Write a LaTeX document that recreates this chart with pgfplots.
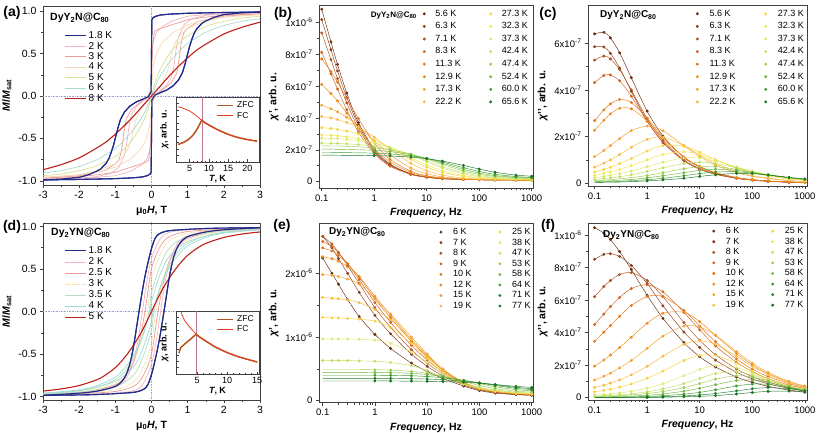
\documentclass[border=0pt]{standalone}
\usepackage{fontspec}
\setmainfont{Liberation Sans}
\setsansfont{Liberation Sans}
\usepackage{pgfplots}
\usepackage{pgfplotstable}
\pgfplotsset{compat=1.18}

\definecolor{cA}{HTML}{6B2A0E}
\definecolor{cB}{HTML}{8E3A14}
\definecolor{cC}{HTML}{B0501E}
\definecolor{cD}{HTML}{D0621F}
\definecolor{cE}{HTML}{E97614}
\definecolor{cF}{HTML}{F08A1C}
\definecolor{cG}{HTML}{F5A22E}
\definecolor{cH}{HTML}{F7BC3E}
\definecolor{cI}{HTML}{F7D43A}
\definecolor{cJ}{HTML}{F2E94E}
\definecolor{cK}{HTML}{DCEB70}
\definecolor{cL}{HTML}{C2E05F}
\definecolor{cM}{HTML}{9DCF4E}
\definecolor{cN}{HTML}{6FB83C}
\definecolor{cO}{HTML}{3C9C2F}
\definecolor{cP}{HTML}{1A7324}
\definecolor{cQ}{HTML}{23802A}
\definecolor{hnavy}{HTML}{1F2A8A}
\definecolor{hred}{HTML}{C0201A}
\definecolor{hpink}{HTML}{F2B6BE}
\definecolor{hsalmon}{HTML}{EE9C94}
\definecolor{hpeach}{HTML}{F6D9B4}
\definecolor{hygreen}{HTML}{D9E28E}
\definecolor{hteal}{HTML}{A9DDD3}
\definecolor{hyellow}{HTML}{F0D890}
\definecolor{hlgreen}{HTML}{B5DFC0}
\definecolor{hcyan}{HTML}{9FDCD6}
\definecolor{hzfc}{HTML}{B5541E}
\definecolor{hfc}{HTML}{E2401C}
\definecolor{hvline}{HTML}{C07890}
\definecolor{hzero}{HTML}{9AA8C8}

% ---------- AC data (units of 1e-7) ----------
\pgfplotstableread{
f s1 s2 s3 s4 s5 s6 s7 s8 s9 s10 s11 s12 s13 s14 s15 s16
0.1 10.84 10.18 9.35 8.13 7.71 6.11 4.80 4.09 3.39 2.94 2.73 2.42 2.25 2.04 1.83 1.66
0.15 8.78 8.29 7.67 6.78 6.92 5.54 4.58 4.00 3.34 2.91 2.71 2.41 2.24 2.04 1.83 1.66
0.2 7.37 6.96 6.47 5.82 6.25 5.07 4.39 3.90 3.28 2.88 2.70 2.40 2.24 2.03 1.82 1.66
0.3 5.57 5.28 4.95 4.52 5.25 4.31 4.04 3.72 3.18 2.82 2.66 2.37 2.22 2.02 1.82 1.65
0.5 3.71 3.56 3.35 3.12 3.96 3.32 3.47 3.41 3.00 2.70 2.58 2.33 2.19 2.00 1.81 1.65
1 2.04 1.95 1.86 1.76 2.45 2.11 2.57 2.80 2.63 2.46 2.42 2.22 2.12 1.97 1.79 1.63
2 1.10 1.05 1.01 0.97 1.40 1.23 1.69 2.05 2.13 2.11 2.17 2.04 2.00 1.89 1.74 1.61
5 0.49 0.48 0.47 0.45 0.65 0.58 0.85 1.15 1.40 1.50 1.67 1.67 1.73 1.69 1.62 1.54
10 0.30 0.28 0.28 0.27 0.37 0.34 0.50 0.69 0.92 1.04 1.23 1.30 1.42 1.46 1.46 1.44
20 0.19 0.19 0.19 0.18 0.24 0.22 0.30 0.41 0.58 0.68 0.84 0.93 1.08 1.16 1.23 1.29
50 0.14 0.14 0.14 0.13 0.15 0.15 0.18 0.22 0.32 0.38 0.48 0.56 0.67 0.77 0.88 1.02
100 0.12 0.12 0.12 0.12 0.12 0.12 0.14 0.16 0.22 0.26 0.32 0.38 0.46 0.54 0.64 0.79
200 0.11 0.11 0.11 0.11 0.11 0.11 0.12 0.13 0.16 0.20 0.23 0.27 0.33 0.38 0.46 0.59
500 0.10 0.10 0.10 0.10 0.10 0.10 0.10 0.11 0.13 0.15 0.17 0.20 0.24 0.27 0.32 0.41
1000 0.10 0.10 0.10 0.10 0.10 0.10 0.10 0.10 0.11 0.14 0.15 0.18 0.21 0.23 0.26 0.34
}\tabB

\pgfplotstableread{
f s1 s2 s3 s4 s5 s6 s7 s8 s9 s10 s11 s12 s13 s14 s15 s16
0.1 6.40 5.85 5.28 4.31 2.68 2.27 1.14 0.69 0.48 0.34 0.24 0.16 0.11 0.07 0.05 0.03
0.15 6.47 5.84 5.45 4.62 3.14 2.70 1.40 0.86 0.59 0.42 0.29 0.20 0.13 0.09 0.06 0.04
0.2 6.23 5.57 5.33 4.64 3.40 2.97 1.61 1.00 0.68 0.48 0.34 0.23 0.15 0.10 0.07 0.04
0.3 5.59 4.94 4.87 4.39 3.59 3.21 1.91 1.23 0.84 0.59 0.41 0.28 0.19 0.13 0.08 0.05
0.5 4.52 3.94 4.00 3.73 3.46 3.19 2.25 1.54 1.06 0.75 0.52 0.36 0.24 0.16 0.11 0.07
1 3.09 2.67 2.77 2.66 2.79 2.67 2.45 1.88 1.38 1.00 0.71 0.50 0.33 0.23 0.15 0.10
2 2.02 1.74 1.84 1.77 1.97 1.92 2.25 1.97 1.61 1.23 0.90 0.66 0.45 0.32 0.21 0.14
5 1.10 0.96 1.00 0.98 1.13 1.11 1.61 1.61 1.58 1.35 1.08 0.84 0.62 0.45 0.32 0.21
10 0.70 0.60 0.63 0.62 0.72 0.71 1.14 1.21 1.33 1.23 1.08 0.90 0.70 0.55 0.41 0.29
20 0.44 0.38 0.40 0.39 0.45 0.45 0.77 0.84 1.01 1.00 0.95 0.84 0.71 0.60 0.48 0.36
50 0.24 0.21 0.21 0.21 0.24 0.24 0.45 0.50 0.65 0.68 0.70 0.66 0.60 0.55 0.49 0.42
100 0.15 0.13 0.14 0.13 0.15 0.15 0.30 0.33 0.45 0.48 0.52 0.50 0.47 0.45 0.43 0.41
200 0.09 0.08 0.09 0.08 0.10 0.09 0.20 0.22 0.31 0.34 0.38 0.36 0.35 0.35 0.35 0.35
500 0.05 0.04 0.04 0.05 0.05 0.05 0.11 0.12 0.18 0.21 0.24 0.23 0.23 0.23 0.24 0.25
1000 0.03 0.03 0.03 0.03 0.03 0.03 0.07 0.08 0.12 0.14 0.17 0.16 0.16 0.16 0.17 0.18
}\tabC

\pgfplotstableread{
f s1 s2 s3 s4 s5 s6 s7 s8 s9 s10 s11 s12 s13 s14 s15 s16
0.1 22.4 25.8 25.8 25.0 24.0 22.6 19.8 16.2 13.1 9.7 6.3 4.9 4.45 4.0 3.5 3.1
0.15 20.0 24.0 24.6 24.2 23.5 22.3 19.7 16.1 13.0 9.7 6.3 4.9 4.45 4.0 3.5 3.1
0.2 18.3 22.3 23.3 23.2 22.8 21.9 19.5 16.0 13.0 9.7 6.3 4.9 4.45 4.0 3.5 3.1
0.3 15.9 20.0 21.2 21.5 21.5 21.0 19.1 15.8 12.9 9.7 6.3 4.9 4.45 4.0 3.5 3.1
0.5 13.2 17.0 18.4 19.0 19.4 19.5 18.3 15.4 12.8 9.65 6.25 4.9 4.45 4.0 3.5 3.1
1 10.4 13.4 14.6 15.4 16.0 16.4 16.0 14.3 12.5 9.5 6.2 4.85 4.42 4.0 3.5 3.1
2 8.2 10.5 11.5 12.3 13.0 13.4 13.6 12.7 11.5 9.0 6.0 4.8 4.4 3.98 3.5 3.1
5 5.9 7.3 8.0 8.7 9.3 9.6 10.0 9.6 9.0 7.6 5.5 4.6 4.3 3.92 3.45 3.08
10 4.6 5.4 5.9 6.4 6.9 7.1 7.3 7.0 6.6 6.0 4.7 4.3 4.1 3.8 3.4 3.05
20 3.5 3.9 4.2 4.5 4.8 4.8 5.0 4.7 4.4 4.2 3.7 3.8 3.8 3.6 3.3 3.0
50 2.3 2.5 2.6 2.8 2.9 2.8 2.8 2.7 2.6 2.6 2.6 3.0 3.2 3.2 3.05 2.9
100 1.6 1.7 1.8 1.9 2.0 1.9 1.9 1.9 1.9 2.0 2.1 2.4 2.7 2.8 2.8 2.75
200 1.2 1.3 1.35 1.4 1.45 1.45 1.45 1.45 1.5 1.6 1.7 1.9 2.2 2.4 2.5 2.55
500 0.95 1.0 1.05 1.1 1.1 1.15 1.15 1.15 1.2 1.25 1.35 1.5 1.75 1.95 2.1 2.25
1000 0.85 0.9 0.95 1.0 1.0 1.0 1.0 1.05 1.1 1.1 1.2 1.35 1.55 1.75 1.9 2.1
}\tabE

\pgfplotstableread{
f s1 s2 s3 s4 s5 s6 s7 s8 s9 s10 s11 s12 s13 s14 s15 s16
0.1 10.45 8.51 6.21 4.50 3.47 1.94 1.09 0.63 0.36 0.16 0.10 0.07 0.04 0.02 0.01 0.01
0.15 10.12 8.81 6.83 5.14 4.03 2.32 1.32 0.77 0.45 0.20 0.12 0.09 0.05 0.02 0.01 0.01
0.2 9.72 8.85 7.20 5.60 4.44 2.62 1.51 0.90 0.52 0.23 0.14 0.10 0.06 0.03 0.02 0.01
0.3 8.98 8.68 7.57 6.16 5.01 3.09 1.83 1.10 0.65 0.30 0.18 0.13 0.07 0.04 0.02 0.01
0.5 7.88 8.13 7.69 6.71 5.67 3.72 2.29 1.41 0.85 0.40 0.24 0.17 0.10 0.05 0.03 0.01
1 6.30 7.02 7.21 6.94 6.22 4.58 3.03 1.93 1.20 0.59 0.36 0.26 0.15 0.08 0.04 0.02
2 4.88 5.65 6.21 6.51 6.22 5.19 3.78 2.55 1.64 0.86 0.54 0.38 0.23 0.12 0.06 0.03
5 3.39 4.04 4.62 5.25 5.37 5.25 4.41 3.28 2.29 1.35 0.87 0.62 0.40 0.22 0.11 0.06
10 2.52 3.09 3.53 4.17 4.40 4.68 4.35 3.50 2.60 1.74 1.19 0.87 0.58 0.33 0.17 0.09
20 1.89 2.31 2.64 3.18 3.44 3.83 3.84 3.28 2.60 1.98 1.48 1.14 0.80 0.49 0.26 0.13
50 1.27 1.57 1.77 2.18 2.38 2.72 2.84 2.55 2.12 1.85 1.59 1.35 1.06 0.72 0.42 0.23
100 0.95 1.16 1.30 1.60 1.76 2.02 2.13 1.93 1.63 1.49 1.39 1.27 1.09 0.84 0.55 0.32
200 0.70 0.86 0.95 1.17 1.30 1.48 1.55 1.41 1.18 1.09 1.08 1.04 0.95 0.82 0.62 0.39
500 0.47 0.58 0.63 0.78 0.86 0.96 1.01 0.90 0.75 0.68 0.69 0.69 0.65 0.60 0.55 0.41
1000 0.35 0.42 0.45 0.57 0.63 0.70 0.72 0.63 0.52 0.46 0.47 0.48 0.45 0.43 0.42 0.34
}\tabF

% ---------- hysteresis data: descending branches ----------
\pgfplotstableread{
H M
3 0.99
2.5 0.987
2 0.984
1.5 0.98
1 0.975
0.5 0.965
0.25 0.955
0.12 0.94
0.05 0.925
0.01 0.9
0 0.5
-0.01 0.05
-0.09 -0.01
-0.25 -0.04
-0.42 -0.07
-0.6 -0.12
-0.75 -0.19
-0.86 -0.28
-0.93 -0.38
-0.99 -0.48
-1.05 -0.58
-1.11 -0.66
-1.18 -0.74
-1.25 -0.79
-1.4 -0.86
-1.53 -0.89
-1.75 -0.93
-2 -0.96
-2.5 -0.98
-3 -0.99
}\hAa
\pgfplotstableread{
H M
3 0.98
2 0.97
1.5 0.96
1 0.94
0.6 0.89
0.3 0.82
0.12 0.74
0.04 0.62
0.01 0.4
0 0.1
-0.03 0.02
-0.2 -0.05
-0.4 -0.12
-0.55 -0.22
-0.62 -0.35
-0.68 -0.55
-0.75 -0.7
-0.9 -0.84
-1.1 -0.91
-1.5 -0.95
-2 -0.97
-3 -0.98
}\hAb
\pgfplotstableread{
H M
3 0.97
2 0.95
1.5 0.93
1 0.9
0.5 0.83
0.2 0.79
0.08 0.76
0.02 0.55
0 0.1
-0.1 0.0
-0.3 -0.07
-0.55 -0.16
-0.7 -0.27
-0.77 -0.45
-0.83 -0.65
-0.9 -0.75
-1.0 -0.8
-1.3 -0.88
-2 -0.94
-3 -0.97
}\hAc
\pgfplotstableread{
H M
3 0.96
2 0.93
1.5 0.9
1 0.84
0.6 0.75
0.3 0.63
0.15 0.52
0.05 0.35
0 0.1
-0.1 -0.05
-0.3 -0.15
-0.45 -0.3
-0.55 -0.5
-0.65 -0.62
-0.8 -0.72
-1 -0.8
-1.5 -0.88
-2 -0.93
-3 -0.96
}\hAd
\pgfplotstableread{
H M
0 0
0.1 0.16
0.25 0.32
0.5 0.5
0.75 0.62
1 0.71
1.5 0.82
2 0.88
2.5 0.92
3 0.94
}\hAe
\pgfplotstableread{
H M
0 0
0.1 0.11
0.25 0.24
0.5 0.4
0.75 0.52
1 0.62
1.5 0.75
2 0.83
2.5 0.88
3 0.91
}\hAf
\pgfplotstableread{
H M
0 0
0.25 0.12
0.5 0.24
0.75 0.35
1 0.45
1.25 0.54
1.5 0.61
2 0.73
2.5 0.81
3 0.87
}\hAg

\pgfplotstableread{
H M
3 0.985
2 0.98
1.5 0.975
1 0.965
0.5 0.95
0.3 0.93
0.2 0.91
0.1 0.86
0 0.74
-0.1 0.57
-0.2 0.37
-0.3 0.12
-0.4 -0.15
-0.5 -0.42
-0.6 -0.62
-0.7 -0.74
-0.8 -0.81
-1 -0.88
-1.5 -0.935
-2 -0.96
-3 -0.985
}\hDa
\pgfplotstableread{
H M
3 0.98
2 0.975
1 0.96
0.5 0.93
0.25 0.86
0 0.62
-0.15 0.3
-0.25 0.0
-0.4 -0.4
-0.55 -0.65
-0.75 -0.82
-1 -0.89
-1.5 -0.94
-2 -0.96
-3 -0.98
}\hDb
\pgfplotstableread{
H M
3 0.975
2 0.965
1 0.94
0.5 0.88
0.25 0.77
0 0.5
-0.18 0.0
-0.35 -0.38
-0.5 -0.6
-0.75 -0.78
-1 -0.86
-1.5 -0.92
-2 -0.95
-3 -0.975
}\hDc
\pgfplotstableread{
H M
3 0.97
2 0.96
1 0.92
0.5 0.83
0.25 0.68
0 0.38
-0.12 0.0
-0.3 -0.35
-0.5 -0.58
-0.75 -0.75
-1 -0.84
-1.5 -0.91
-2 -0.94
-3 -0.97
}\hDd
\pgfplotstableread{
H M
3 0.965
2 0.95
1 0.88
0.5 0.75
0.25 0.55
0 0.22
-0.07 0.0
-0.25 -0.3
-0.5 -0.55
-0.75 -0.71
-1 -0.8
-1.5 -0.89
-2 -0.93
-3 -0.965
}\hDe
\pgfplotstableread{
H M
3 0.96
2 0.93
1 0.82
0.5 0.65
0.25 0.45
0 0.12
-0.04 0.0
-0.25 -0.3
-0.5 -0.52
-0.75 -0.67
-1 -0.77
-1.5 -0.87
-2 -0.92
-3 -0.96
}\hDf
\pgfplotstableread{
H M
0 0
0.1 0.09
0.25 0.22
0.4 0.33
0.6 0.46
0.8 0.57
1 0.66
1.25 0.74
1.5 0.8
2 0.87
2.5 0.91
3 0.935
}\hDg

% ---------- insets ----------
\pgfplotstableread{
T y
2 0.85
3 0.835
4 0.81
5 0.785
6 0.745
7 0.70
8.2 0.64
9 0.605
10 0.57
12 0.505
14 0.45
16 0.405
18 0.37
20 0.345
22.5 0.32
}\aFC
\pgfplotstableread{
T y
2 0.27
3 0.29
4 0.32
5 0.36
6 0.42
7 0.51
7.8 0.6
8.2 0.64
9 0.605
10 0.57
12 0.505
14 0.45
16 0.405
18 0.37
20 0.345
22.5 0.32
}\aZFC
\pgfplotstableread{
T y
2.1 1.08
2.5 0.94
3 0.84
4 0.72
4.8 0.64
6 0.55
8 0.43
10 0.34
12 0.27
15 0.19
}\dFC
\pgfplotstableread{
T y
2.0 0.33
2.1 0.37
2.3 0.42
3 0.48
4 0.56
4.8 0.63
6 0.55
8 0.43
10 0.34
12 0.27
15 0.19
}\dZFC

\newcommand{\hyst}[3]{%
  \addplot[#1] table[x=H,y=M]{#2};
  \addlegendentry{#3}
  \addplot[#1,forget plot] table[x expr=-\thisrow{H},y expr=-\thisrow{M}]{#2};
}
\newcommand{\hystf}[2]{%
  \addplot[#1,forget plot] table[x=H,y=M]{#2};
  \addplot[#1,forget plot] table[x expr=-\thisrow{H},y expr=-\thisrow{M}]{#2};
}
\newcommand{\acs}[4]{%
  \addplot[color=#1, line width=0.45pt, smooth, forget plot] table[x=f,y=#3]{#2};
  \addplot[color=#1, only marks, mark=*, mark size=1.25pt] table[x=f,y=#3]{#2};
  \addlegendentry{#4}
}
\newcommand{\acsk}[4]{%
  \addplot[color=#1, line width=0.45pt, smooth, forget plot] table[x=f,y=#3]{#2};
  \addplot[color=#1, only marks, mark=*, mark size=1.25pt, skip coords between index={0}{5}] table[x=f,y=#3]{#2};
  \addlegendentry{#4}
}

\pgfplotsset{
  myax/.style={
    scale only axis, anchor=south west,
    axis background/.style={fill=white},
    tick align=outside, xtick pos=left, ytick pos=left,
    major tick length=3pt, minor tick length=1.8pt,
    every tick/.style={black!75, line width=0.5pt},
    axis line style={black!75, line width=0.6pt},
    tick label style={font=\fontsize{9.5}{10}\selectfont},
    label style={font=\bfseries\fontsize{10.5}{11}\selectfont},
    /pgf/number format/assume math mode=true,
  },
  acax/.style={myax,
    xtick={0.1,1,10,100,1000}, xticklabels={0.1,1,10,100,1000},
    minor xtick={0.2,0.3,0.4,0.5,0.6,0.7,0.8,0.9,2,3,4,5,6,7,8,9,20,30,40,50,60,70,80,90,200,300,400,500,600,700,800,900},
    minor y tick num=1,
    xlabel={\textit{Frequency}, Hz},
    legend columns=8, transpose legend, legend cell align=left,
    legend image code/.code={\draw[##1] plot coordinates {(0pt,0pt)}; \path (-3pt,0pt) (3pt,0pt);},
  },
  hax/.style={myax, xmin=-3, xmax=3,
    xtick={-3,-2,-1,0,1,2,3}, xticklabels={-3,-2,-1,0,1,2,3}, minor x tick num=1,
    ytick={-1,-0.5,0,0.5,1}, yticklabels={-1.0,-0.5,0.0,0.5,1.0}, minor y tick num=1,
    tick label style={font=\fontsize{10.5}{11}\selectfont},
    xlabel={μ\textsubscript{0}\textit{H}, T}, ylabel={\textit{M}/\textit{M}\textsubscript{sat}},
    legend cell align=left,
    legend image code/.code={\draw[##1] (0pt,0pt) -- (21pt,0pt);},
  },
  inax/.style={myax, tick align=inside, width=83pt, ymin=0, ymax=1,
    ytick={0.1,0.2,0.3,0.4,0.5,0.6,0.7,0.8,0.9}, yticklabels={},
    minor x tick num=4, major tick length=2.5pt, minor tick length=1.4pt,
    tick label style={font=\fontsize{9}{9}\selectfont},
    label style={font=\bfseries\fontsize{9}{9}\selectfont},
    xlabel={\textit{T}, K}, ylabel={\textit{χ}, arb. u.},
    xlabel style={yshift=3pt}, ylabel style={yshift=-3pt},
    legend style={at={(0.98,0.97)}, anchor=north east, draw=none, fill=none,
      font=\fontsize{8.5}{8.5}\selectfont, nodes={inner sep=0.5pt}, row sep=2pt,
      /tikz/every odd column/.append style={column sep=3pt}},
    legend cell align=left,
    legend image code/.code={\draw[##1] (0pt,0pt) -- (16pt,0pt);},
  },
}

\begin{document}
\begin{tikzpicture}
\useasboundingbox (0pt,0pt) rectangle (817pt,432pt);

% ================= (a) =================
\begin{axis}[hax, at={(43pt,247pt)}, width=217pt, height=178.5pt, ymin=-1.05, ymax=1.055,
  legend style={at={(0.083,0.874)}, anchor=north west, draw=none, fill=none,
    font=\fontsize{10}{10}\selectfont, nodes={inner sep=0.4pt}, row sep=1.2pt,
    /tikz/every odd column/.append style={column sep=2pt}}]
\addplot[hzero, densely dotted, line width=0.6pt, forget plot] coordinates {(0,-1.1) (0,1.1)};
\addplot[hzero, densely dotted, line width=0.6pt, forget plot] coordinates {(-3,0) (3,0)};
\hyst{color=hnavy, line width=1.1pt}{\hAa}{1.8 K}
\hyst{color=hpink, line width=0.7pt}{\hAb}{2 K}
\hyst{color=hsalmon, line width=0.7pt}{\hAc}{3 K}
\hyst{color=hpeach, line width=0.7pt}{\hAd}{4 K}
\hyst{color=hygreen, line width=0.7pt, smooth}{\hAe}{5 K}
\hyst{color=hteal, line width=0.7pt, smooth}{\hAf}{6 K}
\hyst{color=hred, line width=1.1pt, smooth}{\hAg}{8 K}
\hystf{color=hnavy, line width=1.1pt}{\hAa}
\end{axis}
\begin{axis}[inax, at={(176pt,270pt)}, height=65pt, xmin=1.5, xmax=23, xtick={5,10,15,20}]
\addplot[hvline, line width=0.6pt, forget plot] coordinates {(8.2,0) (8.2,1)};
\addplot[color=hzfc, line width=1.5pt, smooth] table[x=T,y=y]{\aZFC};
\addlegendentry{ZFC}
\addplot[color=hfc, line width=0.8pt, smooth] table[x=T,y=y]{\aFC};
\addlegendentry{FC}
\end{axis}

% ================= (d) =================
\begin{axis}[hax, at={(43pt,32pt)}, width=217pt, height=177pt, ymin=-1.04, ymax=1.04,
  legend style={at={(0.083,0.881)}, anchor=north west, draw=none, fill=none,
    font=\fontsize{10}{10}\selectfont, nodes={inner sep=0.4pt}, row sep=1.8pt,
    /tikz/every odd column/.append style={column sep=2pt}}]
\addplot[hzero, densely dotted, line width=0.6pt, forget plot] coordinates {(0,-1.1) (0,1.1)};
\addplot[hzero, densely dotted, line width=0.6pt, forget plot] coordinates {(-3,0) (3,0)};
\hyst{color=hnavy, line width=1.1pt, smooth}{\hDa}{1.8 K}
\hyst{color=hpink, line width=0.7pt, smooth}{\hDb}{2 K}
\hyst{color=hsalmon, line width=0.7pt, smooth}{\hDc}{2.5 K}
\hyst{color=hyellow, line width=0.8pt, densely dotted, smooth}{\hDd}{3 K}
\hyst{color=hlgreen, line width=0.7pt, smooth}{\hDe}{3.5 K}
\hyst{color=hcyan, line width=0.7pt, smooth}{\hDf}{4 K}
\hyst{color=hred, line width=1.1pt, smooth}{\hDg}{5 K}
\hystf{color=hnavy, line width=1.1pt, smooth}{\hDa}
\end{axis}
\begin{axis}[inax, at={(176pt,58pt)}, height=63pt, xmin=1.5, xmax=15.3, xtick={5,10,15}]
\addplot[hvline, line width=0.6pt, forget plot] coordinates {(4.8,0) (4.8,1)};
\addplot[color=hzfc, line width=1.5pt] table[x=T,y=y]{\dZFC};
\addlegendentry{ZFC}
\addplot[color=hfc, line width=0.8pt, smooth] table[x=T,y=y]{\dFC};
\addlegendentry{FC}
\end{axis}

% ================= (b) =================
\begin{semilogxaxis}[acax, at={(319pt,244pt)}, width=214pt, height=183pt,
  xmin=0.0888, xmax=1059, ymin=-0.4, ymax=11.1,
  ytick={0,2,4,6,8,10},
  yticklabels={0,2x10\textsuperscript{-7},4x10\textsuperscript{-7},6x10\textsuperscript{-7},8x10\textsuperscript{-7},1x10\textsuperscript{-6}},
  ylabel={\textit{χ}', arb. u.},
  legend style={at={(0.462,0.985)}, anchor=north west, draw=none, fill=none,
    font=\fontsize{9}{9}\selectfont, nodes={inner sep=0pt}, row sep=4.8pt,
    /tikz/every odd column/.append style={column sep=8pt},
    /tikz/every even column/.append style={column sep=26pt}}]
\acs{cA}{\tabB}{s1}{5.6 K}
\acs{cB}{\tabB}{s2}{6.3 K}
\acs{cC}{\tabB}{s3}{7.1 K}
\acs{cD}{\tabB}{s4}{8.3 K}
\acs{cE}{\tabB}{s5}{11.3 K}
\acs{cF}{\tabB}{s6}{12.9 K}
\acs{cG}{\tabB}{s7}{17.3 K}
\acs{cH}{\tabB}{s8}{22.2 K}
\acs{cI}{\tabB}{s9}{27.3 K}
\acs{cJ}{\tabB}{s10}{32.3 K}
\acs{cK}{\tabB}{s11}{37.3 K}
\acs{cL}{\tabB}{s12}{42.4 K}
\acsk{cM}{\tabB}{s13}{47.4 K}
\acsk{cN}{\tabB}{s14}{52.4 K}
\acsk{cO}{\tabB}{s15}{60.0 K}
\acsk{cP}{\tabB}{s16}{65.6 K}
\end{semilogxaxis}

% ================= (c) =================
\begin{semilogxaxis}[acax, at={(588pt,246pt)}, width=219pt, height=181pt,
  xmin=0.075, xmax=1100, ymin=-0.12, ymax=7.64,
  ytick={0,2,4,6},
  yticklabels={0,2x10\textsuperscript{-7},4x10\textsuperscript{-7},6x10\textsuperscript{-7}},
  ylabel={\textit{χ}'{}', arb. u.},
  legend style={at={(0.47,0.985)}, anchor=north west, draw=none, fill=none,
    font=\fontsize{9}{9}\selectfont, nodes={inner sep=0pt}, row sep=4.8pt,
    /tikz/every odd column/.append style={column sep=9pt},
    /tikz/every even column/.append style={column sep=27pt}}]
\acs{cA}{\tabC}{s1}{5.6 K}
\acs{cB}{\tabC}{s2}{6.3 K}
\acs{cC}{\tabC}{s3}{7.1 K}
\acs{cD}{\tabC}{s4}{8.3 K}
\acs{cE}{\tabC}{s5}{11.3 K}
\acs{cF}{\tabC}{s6}{12.9 K}
\acs{cG}{\tabC}{s7}{17.3 K}
\acs{cH}{\tabC}{s8}{22.2 K}
\acs{cI}{\tabC}{s9}{27.3 K}
\acs{cJ}{\tabC}{s10}{32.3 K}
\acs{cK}{\tabC}{s11}{37.3 K}
\acs{cL}{\tabC}{s12}{42.4 K}
\acsk{cM}{\tabC}{s13}{47.4 K}
\acsk{cN}{\tabC}{s14}{52.4 K}
\acsk{cO}{\tabC}{s15}{60.0 K}
\acsk{cP}{\tabC}{s16}{65.6 K}
\end{semilogxaxis}

% ================= (e) =================
\begin{semilogxaxis}[acax, at={(319pt,29.3pt)}, width=214pt, height=179.4pt,
  xmin=0.085, xmax=1059, ymin=-0.31, ymax=27.85,
  ytick={0,10,20},
  yticklabels={0,1x10\textsuperscript{-6},2x10\textsuperscript{-6}},
  ylabel={\textit{χ}', arb. u.},
  legend style={at={(0.54,0.985)}, anchor=north west, draw=none, fill=none,
    font=\fontsize{9}{9}\selectfont, nodes={inner sep=0pt}, row sep=2.8pt,
    /tikz/every odd column/.append style={column sep=9pt},
    /tikz/every even column/.append style={column sep=25pt}}]
\acs{cA}{\tabE}{s1}{6 K}
\acs{cB}{\tabE}{s2}{7 K}
\acs{cC}{\tabE}{s3}{8 K}
\acs{cD}{\tabE}{s4}{9 K}
\acs{cE}{\tabE}{s5}{10 K}
\acs{cF}{\tabE}{s6}{12 K}
\acs{cG}{\tabE}{s7}{15 K}
\acs{cH}{\tabE}{s8}{19 K}
\acs{cI}{\tabE}{s9}{25 K}
\acs{cK}{\tabE}{s10}{38 K}
\acs{cL}{\tabE}{s11}{47 K}
\acsk{cM}{\tabE}{s12}{53 K}
\acsk{cN}{\tabE}{s13}{58 K}
\acsk{cO}{\tabE}{s14}{64 K}
\acsk{cQ}{\tabE}{s15}{71 K}
\acsk{cP}{\tabE}{s16}{77 K}
\end{semilogxaxis}

% ================= (f) =================
\begin{semilogxaxis}[acax, at={(588pt,32pt)}, width=219pt, height=176.7pt,
  xmin=0.075, xmax=1100, ymin=-0.14, ymax=10.72,
  ytick={0,2,4,6,8,10},
  yticklabels={0,2x10\textsuperscript{-7},4x10\textsuperscript{-7},6x10\textsuperscript{-7},8x10\textsuperscript{-7},1x10\textsuperscript{-6}},
  ylabel={\textit{χ}'{}', arb. u.},
  legend style={at={(0.545,0.99)}, anchor=north west, draw=none, fill=none,
    font=\fontsize{9}{9}\selectfont, nodes={inner sep=0pt}, row sep=2.8pt,
    /tikz/every odd column/.append style={column sep=9pt},
    /tikz/every even column/.append style={column sep=25pt}}]
\acs{cA}{\tabF}{s1}{6 K}
\acs{cB}{\tabF}{s2}{7 K}
\acs{cC}{\tabF}{s3}{8 K}
\acs{cD}{\tabF}{s4}{9 K}
\acs{cE}{\tabF}{s5}{10 K}
\acs{cF}{\tabF}{s6}{12 K}
\acs{cG}{\tabF}{s7}{15 K}
\acs{cH}{\tabF}{s8}{19 K}
\acs{cI}{\tabF}{s9}{25 K}
\acs{cK}{\tabF}{s10}{38 K}
\acs{cL}{\tabF}{s11}{47 K}
\acsk{cM}{\tabF}{s12}{53 K}
\acsk{cN}{\tabF}{s13}{58 K}
\acsk{cO}{\tabF}{s14}{64 K}
\acsk{cQ}{\tabF}{s15}{71 K}
\acsk{cP}{\tabF}{s16}{77 K}
\end{semilogxaxis}

% ---------- panel labels and titles ----------
\begin{scope}[every node/.style={font=\bfseries\fontsize{14}{14}\selectfont, inner sep=0pt}]
\node at (12pt,419pt) {(a)};
\node at (283pt,418pt) {(b)};
\node at (548pt,418pt) {(c)};
\node at (12pt,205pt) {(d)};
\node at (282pt,206pt) {(e)};
\node at (548pt,206pt) {(f)};
\end{scope}
\node[anchor=west, inner sep=0pt, font=\bfseries\fontsize{10.5}{11}\selectfont] at (50pt,414pt) {DyY\textsubscript{2}N@C\textsubscript{80}};
\node[anchor=west, inner sep=0pt, font=\bfseries\fontsize{10.5}{11}\selectfont] at (51pt,199pt) {Dy\textsubscript{2}YN@C\textsubscript{80}};
\node[anchor=east, inner sep=0pt, font=\bfseries\fontsize{8}{9}\selectfont] at (417pt,417pt) {DyY\textsubscript{2}N@C\textsubscript{80}};
\node[anchor=west, inner sep=0pt, font=\bfseries\fontsize{10}{11}\selectfont] at (600pt,417pt) {DyY\textsubscript{2}N@C\textsubscript{80}};
\node[anchor=west, inner sep=0pt, font=\bfseries\fontsize{10}{11}\selectfont] at (329pt,200pt) {Dy\textsubscript{2}YN@C\textsubscript{80}};
\node[anchor=west, inner sep=0pt, font=\bfseries\fontsize{10}{11}\selectfont] at (603pt,197pt) {Dy\textsubscript{2}YN@C\textsubscript{80}};
\end{tikzpicture}
\end{document}
